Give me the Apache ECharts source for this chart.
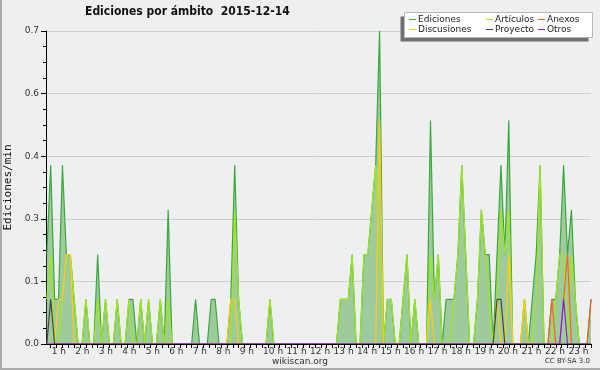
<!DOCTYPE html>
<html><head><meta charset="utf-8">
<script src="https://cdn.jsdelivr.net/npm/echarts@6/dist/echarts.min.js"></script>
<style>html,body{margin:0;padding:0;background:#eeeff0}#c{width:600px;height:370px}</style>
</head><body><div id="c"></div>
<script>
// 10-minute bins, first bin = 00:50, last bin = 24:00 (values in edits/min)
const firstBin = 5;
const ediciones = [
  0.2,
  0.4, 0.1, 0.1, 0.4, 0.2, 0.2,
  0.1, 0, 0, 0.1, 0, 0,
  0.2, 0, 0.1, 0, 0, 0.1,
  0, 0, 0.1, 0.1, 0, 0.1,
  0, 0.1, 0, 0, 0.1, 0,
  0.3, 0, 0, 0, 0, 0,
  0, 0.1, 0, 0, 0, 0.1,
  0.1, 0, 0, 0, 0.1, 0.4,
  0.1, 0, 0, 0, 0, 0,
  0, 0, 0.1, 0, 0, 0,
  0, 0, 0, 0, 0, 0,
  0, 0, 0, 0, 0, 0,
  0, 0, 0.1, 0.1, 0.1, 0.2,
  0, 0, 0.2, 0.2, 0.3, 0.4,
  0.7, 0, 0.1, 0.1, 0, 0,
  0.1, 0.2, 0, 0.1, 0, 0,
  0, 0.5, 0.1, 0.2, 0, 0.1,
  0.1, 0.1, 0.2, 0.4, 0.2, 0,
  0, 0.1, 0.3, 0.2, 0.2, 0,
  0.2, 0.4, 0.2, 0.5, 0, 0,
  0, 0.1, 0, 0.1, 0.2, 0.4,
  0, 0, 0.1, 0.1, 0.2, 0.4,
  0.2, 0.3, 0.1, 0, 0, 0,
  0.1
];
const articulos = [
  0.1,
  0.2, 0, 0, 0.1, 0.2, 0.2,
  0.1, 0, 0, 0.1, 0, 0,
  0.1, 0, 0.1, 0, 0, 0.1,
  0, 0, 0.1, 0, 0, 0.1,
  0, 0.1, 0, 0, 0.1, 0,
  0.1, 0, 0, 0, 0, 0,
  0, 0, 0, 0, 0, 0,
  0, 0, 0, 0, 0, 0.3,
  0.1, 0, 0, 0, 0, 0,
  0, 0, 0.1, 0, 0, 0,
  0, 0, 0, 0, 0, 0,
  0, 0, 0, 0, 0, 0,
  0, 0, 0.1, 0.1, 0.1, 0.2,
  0, 0, 0.2, 0.2, 0.3, 0.4,
  0.2, 0, 0.1, 0.1, 0, 0,
  0.1, 0.2, 0, 0.1, 0, 0,
  0, 0.2, 0.1, 0.2, 0, 0,
  0, 0.1, 0.2, 0.4, 0.2, 0,
  0, 0.1, 0.3, 0.2, 0.1, 0,
  0.1, 0.3, 0.2, 0.3, 0, 0,
  0, 0.1, 0, 0, 0.1, 0.4,
  0, 0, 0, 0.1, 0.2, 0.2,
  0, 0.2, 0.1, 0, 0, 0,
  0
];
const anexos = [
  0,
  0, 0, 0, 0, 0, 0,
  0, 0, 0, 0, 0, 0,
  0, 0, 0, 0, 0, 0,
  0, 0, 0, 0, 0, 0,
  0, 0, 0, 0, 0, 0,
  0, 0, 0, 0, 0, 0,
  0, 0, 0, 0, 0, 0,
  0, 0, 0, 0, 0, 0,
  0, 0, 0, 0, 0, 0,
  0, 0, 0, 0, 0, 0,
  0, 0, 0, 0, 0, 0,
  0, 0, 0, 0, 0, 0,
  0, 0, 0, 0, 0, 0,
  0, 0, 0, 0, 0, 0,
  0, 0, 0, 0, 0, 0,
  0, 0, 0, 0, 0, 0,
  0, 0, 0, 0, 0, 0,
  0, 0, 0, 0, 0, 0,
  0, 0, 0, 0, 0, 0,
  0, 0, 0, 0, 0, 0,
  0, 0, 0, 0, 0, 0,
  0, 0, 0.1, 0, 0, 0.1,
  0.2, 0, 0, 0, 0, 0,
  0.1
];
const discusiones = [
  0,
  0, 0, 0.1, 0.1, 0.2, 0.2,
  0, 0, 0, 0, 0, 0,
  0, 0, 0, 0, 0, 0,
  0, 0, 0, 0, 0, 0,
  0, 0, 0, 0, 0, 0,
  0, 0, 0, 0, 0, 0,
  0, 0, 0, 0, 0, 0,
  0, 0, 0, 0, 0.1, 0.1,
  0, 0, 0, 0, 0, 0,
  0, 0, 0, 0, 0, 0,
  0, 0, 0, 0, 0, 0,
  0, 0, 0, 0, 0, 0,
  0, 0, 0, 0, 0, 0,
  0, 0, 0, 0, 0, 0,
  0.5, 0, 0, 0, 0, 0,
  0, 0, 0, 0, 0, 0,
  0, 0.1, 0, 0, 0, 0,
  0, 0, 0, 0, 0, 0,
  0, 0, 0, 0, 0, 0,
  0.1, 0, 0, 0.2, 0, 0,
  0, 0.1, 0, 0, 0, 0,
  0, 0, 0, 0, 0, 0,
  0, 0, 0, 0, 0, 0,
  0
];
const proyecto = [
  0,
  0.1, 0, 0, 0, 0, 0,
  0, 0, 0, 0, 0, 0,
  0, 0, 0, 0, 0, 0,
  0, 0, 0, 0, 0, 0,
  0, 0, 0, 0, 0, 0,
  0, 0, 0, 0, 0, 0,
  0, 0, 0, 0, 0, 0,
  0, 0, 0, 0, 0, 0,
  0, 0, 0, 0, 0, 0,
  0, 0, 0, 0, 0, 0,
  0, 0, 0, 0, 0, 0,
  0, 0, 0, 0, 0, 0,
  0, 0, 0, 0, 0, 0,
  0, 0, 0, 0, 0, 0,
  0, 0, 0, 0, 0, 0,
  0, 0, 0, 0, 0, 0,
  0, 0, 0, 0, 0, 0,
  0, 0, 0, 0, 0, 0,
  0, 0, 0, 0, 0, 0,
  0.1, 0.1, 0, 0, 0, 0,
  0, 0, 0, 0, 0, 0,
  0, 0, 0, 0, 0, 0,
  0, 0, 0, 0, 0, 0,
  0
];
const otros = [
  0,
  0, 0, 0, 0, 0, 0,
  0, 0, 0, 0, 0, 0,
  0, 0, 0, 0, 0, 0,
  0, 0, 0, 0, 0, 0,
  0, 0, 0, 0, 0, 0,
  0, 0, 0, 0, 0, 0,
  0, 0, 0, 0, 0, 0,
  0, 0, 0, 0, 0, 0,
  0, 0, 0, 0, 0, 0,
  0, 0, 0, 0, 0, 0,
  0, 0, 0, 0, 0, 0,
  0, 0, 0, 0, 0, 0,
  0, 0, 0, 0, 0, 0,
  0, 0, 0, 0, 0, 0,
  0, 0, 0, 0, 0, 0,
  0, 0, 0, 0, 0, 0,
  0, 0, 0, 0, 0, 0,
  0, 0, 0, 0, 0, 0,
  0, 0, 0, 0, 0, 0,
  0, 0, 0, 0, 0, 0,
  0, 0, 0, 0, 0, 0,
  0, 0, 0, 0, 0, 0.1,
  0, 0, 0, 0, 0, 0,
  0
];
const hourTicks = [1,2,3,4,5,6,7,8,9,10,11,12,13,14,15,16,17,18,19,20,21,22,23];
const title = 'Ediciones por ámbito  2015-12-14';

const times = ediciones.map((_, i) => (firstBin + i) / 6);
const quarterTicks = [];
for (let q = 4; q <= 96; q++) quarterTicks.push(q / 4);
const pairs = arr => arr.map((v, i) => [times[i], v]);

const mk = (name, arr, color, extra) => Object.assign({
  name, type: 'line', data: pairs(arr), symbol: 'none', showSymbol: false,
  color, lineStyle: { color, width: 1.2 }, animation: false
}, extra || {});

const chart = echarts.init(document.getElementById('c'), null, { renderer: 'canvas' });
const legendCommon = {
  orient: 'vertical', top: 14.5, padding: 0, itemGap: 0, itemWidth: 7, itemHeight: 1,
  icon: 'rect', selectedMode: false, z: 30,
  textStyle: { fontSize: 9, lineHeight: 10, color: '#222', fontFamily: 'DejaVu Sans', padding: [0,0,0,-3] }
};
chart.setOption({
  backgroundColor: '#eeeff0',
  animation: false,
  title: {
    text: title, left: 85, top: 6, padding: 0,
    textStyle: { fontSize: 12, fontWeight: 'bold', color: '#111', fontFamily: '"DejaVu Sans Condensed", "DejaVu Sans"' }
  },
  grid: { left: 46, right: 9, top: 31, bottom: 26, containLabel: false, outerBoundsMode: 'none' },
  xAxis: {
    type: 'value', min: 0.8, max: 24, z: 5,
    axisLine: { show: true, lineStyle: { color: '#000', width: 1 } },
    axisTick: { show: true, length: 4, lineStyle: { color: '#000' }, customValues: quarterTicks },
    axisLabel: {
      customValues: hourTicks, formatter: v => v + ' h', align: 'left', margin: 3,
      fontSize: 9, color: '#333', fontFamily: 'DejaVu Sans', padding: [0,0,0,1]
    },
    splitLine: { show: false }
  },
  yAxis: {
    type: 'value', min: 0, max: 0.7, interval: 0.14,
    name: 'Ediciones/min', nameLocation: 'middle', nameRotate: 90, nameGap: 30,
    nameTextStyle: { fontSize: 11, color: '#111', fontFamily: 'DejaVu Sans Mono' },
    axisLine: { show: true, lineStyle: { color: '#000', width: 1 } },
    axisTick: { show: true, length: 5, lineStyle: { color: '#000' } },
    minorTick: { show: true, splitNumber: 4, length: 3, lineStyle: { color: '#000' } },
    axisLabel: { formatter: v => v.toFixed(1), margin: 7, fontSize: 9, color: '#333', fontFamily: 'DejaVu Sans' },
    splitLine: { show: true, lineStyle: { color: '#cfcfcf', width: 1 } },
    minorSplitLine: { show: false }
  },
  legend: [
    Object.assign({}, legendCommon, { left: 409, data: ['Ediciones', 'Discusiones'] }),
    Object.assign({}, legendCommon, { left: 486, data: ['Artículos', 'Proyecto'] }),
    Object.assign({}, legendCommon, { left: 538, data: ['Anexos', 'Otros'] })
  ],
  graphic: [
    { type: 'rect', z: 10, shape: { x: 400.5, y: 16.5, width: 188, height: 25 }, style: { fill: '#707070' } },
    { type: 'rect', z: 11, shape: { x: 404.5, y: 12.5, width: 188, height: 25 }, style: { fill: '#ffffff', stroke: '#b8b8b8', lineWidth: 1 } },
    { type: 'text', left: 'center', top: 357, style: { text: 'wikiscan.org', font: '9px "DejaVu Sans"', fill: '#333' } },
    { type: 'text', right: 10, top: 358, style: { text: 'CC BY-SA 3.0', font: '7px "DejaVu Sans"', fill: '#333' } },
    { type: 'rect', z: 40, shape: { x: 0, y: 0, width: 2, height: 370 }, style: { fill: '#aaaaaa' } },
    { type: 'rect', z: 40, shape: { x: 0, y: 368, width: 600, height: 2 }, style: { fill: '#aaaaaa' } }
  ],
  series: [
    mk('Ediciones', ediciones, '#3aa83a', { areaStyle: { color: '#9ecb9e', opacity: 1 }, lineStyle: { color: '#3aa83a', width: 1.2 } }),
    mk('Artículos', articulos, '#a2e61c'),
    mk('Anexos', anexos, '#ff6020'),
    mk('Discusiones', discusiones, '#ffcc11'),
    mk('Proyecto', proyecto, '#444444'),
    mk('Otros', otros, '#8a1ef0')
  ]
});
</script></body></html>
